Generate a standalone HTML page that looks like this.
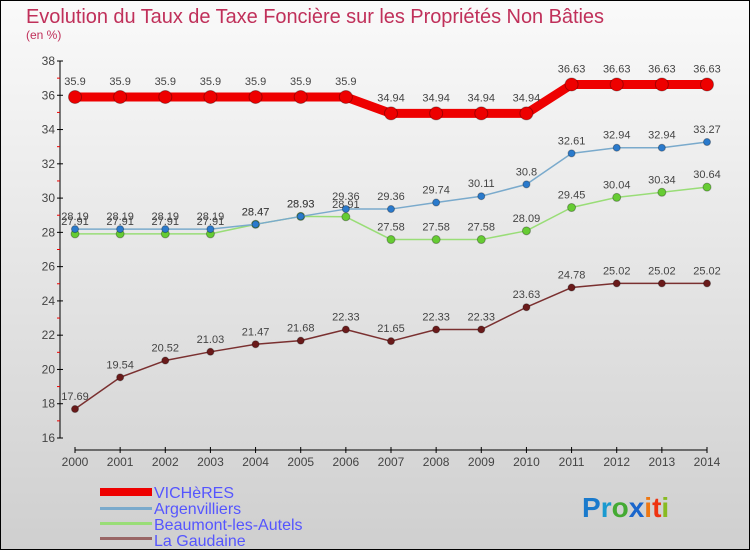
<!DOCTYPE html>
<html><head><meta charset="utf-8"><style>
body{margin:0;}
svg{display:block;font-family:"Liberation Sans",sans-serif;}
</style></head><body>
<svg id="c" width="750" height="550" xmlns="http://www.w3.org/2000/svg">
<defs><linearGradient id="bg" x1="0" y1="0" x2="0" y2="1"><stop offset="0" stop-color="#fafafa"/><stop offset="1" stop-color="#cfcfcf"/></linearGradient></defs>
<rect x="0.5" y="0.5" width="749" height="549" fill="url(#bg)" stroke="#000"/>
<text x="26" y="23" font-size="20" fill="#c0305a" textLength="578">Evolution du Taux de Taxe Foncière sur les Propriétés Non Bâties</text>
<text x="26" y="39" font-size="12" fill="#c0305a">(en %)</text>
<g id="axes"></g>
<g id="series"></g>
<g>
<rect x="100" y="488" width="52" height="8" fill="#e00"/>
<text x="154" y="498" font-size="16" fill="#55f">VICHèRES</text>
<rect x="100" y="507" width="52" height="3" fill="#7aaacc"/>
<text x="154" y="514" font-size="16" fill="#55f">Argenvilliers</text>
<rect x="100" y="522" width="52" height="3" fill="#99dd77"/>
<text x="154" y="530" font-size="16" fill="#55f">Beaumont-les-Autels</text>
<rect x="100" y="537" width="52" height="3" fill="#996666"/>
<text x="154" y="546" font-size="16" fill="#55f">La Gaudaine</text>
</g>
<text x="582" y="517" font-size="28" font-weight="bold"><tspan fill="#1a7acc">P</tspan><tspan fill="#1a9ad0">r</tspan><tspan fill="#44aa33">o</tspan><tspan fill="#1a66cc">x</tspan><tspan fill="#ee7711">i</tspan><tspan fill="#ee3311">t</tspan><tspan fill="#88bb22">i</tspan></text>
</svg>
<script>
const years=[2000,2001,2002,2003,2004,2005,2006,2007,2008,2009,2010,2011,2012,2013,2014];
const vicheres=[35.9,35.9,35.9,35.9,35.9,35.9,35.9,34.94,34.94,34.94,34.94,36.63,36.63,36.63,36.63];
const argen=[28.19,28.19,28.19,28.19,28.47,28.93,29.36,29.36,29.74,30.11,30.8,32.61,32.94,32.94,33.27];
const beaumont=[27.91,27.91,27.91,27.91,28.47,28.93,28.91,27.58,27.58,27.58,28.09,29.45,30.04,30.34,30.64];
const gaudaine=[17.69,19.54,20.52,21.03,21.47,21.68,22.33,21.65,22.33,22.33,23.63,24.78,25.02,25.02,25.02];
const yTicks=[16,18,20,22,24,26,28,30,32,34,36,38];
const NS="http://www.w3.org/2000/svg";
const X=i=>75+i*(707-75)/(years.length-1);
const Y=v=>438-(v-16)*(377/22);
function mk(p,t,a){const e=document.createElementNS(NS,t);for(const k in a)e.setAttribute(k,a[k]);p.appendChild(e);return e;}
const ax=document.getElementById('axes');
const yl=mk(ax,'line',{x1:60,y1:61,x2:60,y2:438,stroke:'#000'});


yTicks.forEach(v=>{
 mk(ax,'line',{x1:57,x2:63,y1:Y(v),y2:Y(v),stroke:'#000'});
 if(v<38)mk(ax,'line',{x1:57,x2:60,y1:Y(v+1),y2:Y(v+1),stroke:'#e00'});
 const t=mk(ax,'text',{x:55,y:Y(v)+4,'text-anchor':'end','font-size':12,fill:'#444'});t.textContent=v;
 
 
});
const xl=mk(ax,'line',{x1:75,y1:450,x2:707,y2:450,stroke:'#000'});


years.forEach((y,i)=>{
 mk(ax,'line',{x1:X(i),x2:X(i),y1:447,y2:453,stroke:'#000'});
 const t=mk(ax,'text',{x:X(i),y:466,'text-anchor':'middle','font-size':12,fill:'#444'});t.textContent=y;
 
 
});
const sg=document.getElementById('series');
function draw(name,vals,col,dot,w,r,dy){
 const g=mk(sg,'g',{});
 
 
 mk(g,'polyline',{points:vals.map((v,i)=>X(i)+','+Y(v)).join(' '),fill:'none',stroke:col,'stroke-width':w,'stroke-linejoin':'round'});
 vals.forEach((v,i)=>{
  const c=mk(g,'circle',{cx:X(i),cy:Y(v),r:r,fill:dot,stroke:'rgba(0,0,0,0.3)'});
  
  
  const t=mk(g,'text',{x:X(i),y:Y(v)-dy,'text-anchor':'middle','font-size':11,fill:'#444'});t.textContent=v;
  
  
 });
}
draw('gaudaine-series',gaudaine,'#7a3030','#6a1a1a',1.5,3.5,9);
draw('beaumont-series',beaumont,'#99dd77','#66cc33',1.5,4,9);
draw('argenvilliers-series',argen,'#7aaacc','#2a7acc',1.5,3.5,9);
draw('vicheres-series',vicheres,'#e00','#e00',9,6.5,12);
</script>
</body></html>
